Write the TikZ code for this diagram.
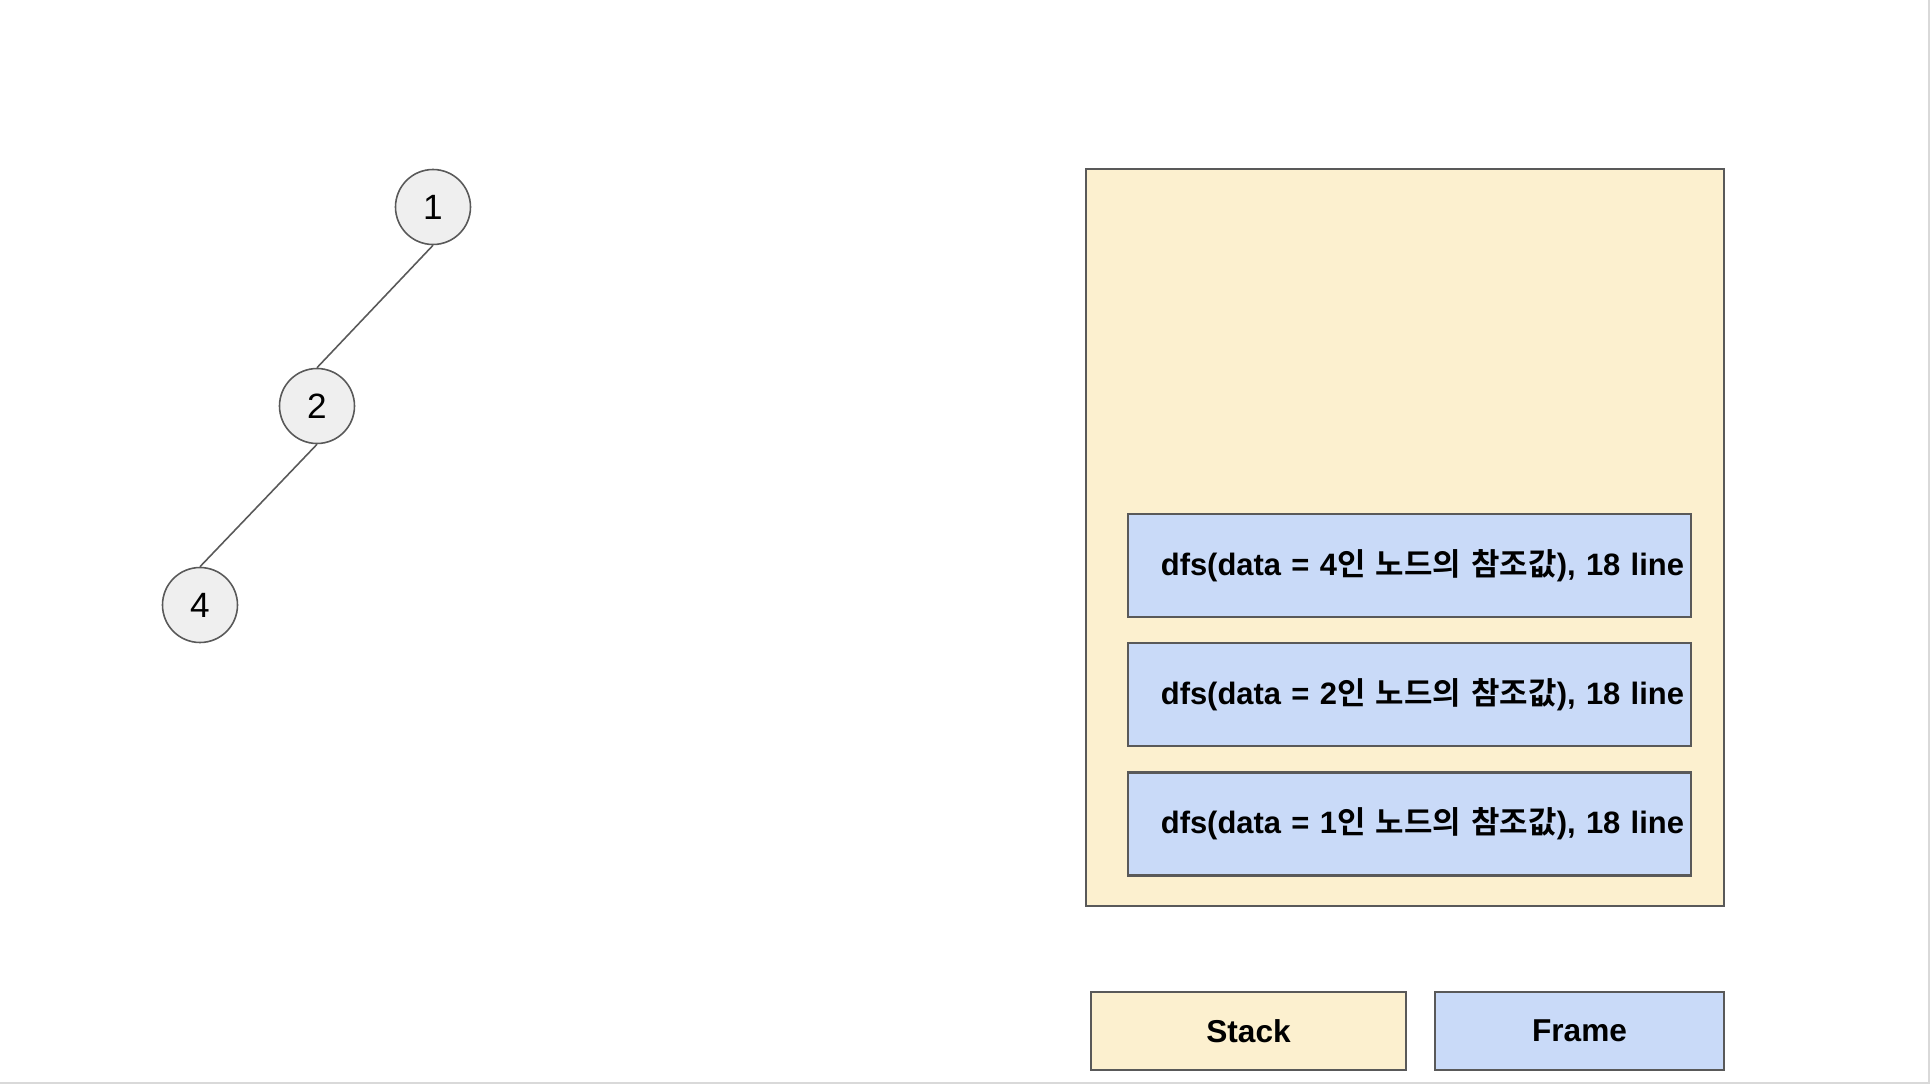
\documentclass[tikz,border=0pt]{standalone}
\usepackage{fontspec}
\setmainfont{Liberation Sans}
\newfontfamily\kofont{Noto Sans CJK KR}[BoldFont={Noto Sans CJK KR Bold}]
\usetikzlibrary{positioning,fit,calc}
\definecolor{stackfill}{HTML}{FCF0CF}
\definecolor{framefill}{HTML}{C9DAF8}
\definecolor{nodefill}{HTML}{EFEFEF}
\definecolor{edgegray}{HTML}{595959}
\definecolor{pagegray}{HTML}{D9D9D9}
\newcommand{\ko}[1]{{\kofont\bfseries #1}}

\begin{document}
\begin{tikzpicture}[
    treenode/.style={circle, draw=edgegray, fill=nodefill, line width=0.45pt, minimum size=0.75cm, inner sep=0pt, font=\fontsize{10}{12}\selectfont},
    treeedge/.style={draw=edgegray, line width=0.45pt},
    stackbox/.style={draw=edgegray, fill=stackfill, line width=0.6pt},
    framebox/.style={draw=edgegray, fill=framefill, line width=0.6pt, minimum height=1.03cm, text width=5.49cm, inner xsep=0.07cm, align=right, font=\fontsize{8.8}{10}\selectfont\bfseries},
    legend/.style={draw=edgegray, line width=0.6pt, minimum height=0.78cm, font=\fontsize{9}{10}\selectfont\bfseries}
]
\useasboundingbox (0,0) rectangle (19.30,10.84);
\draw[pagegray, line width=0.6pt] (19.29,10.84) -- (19.29,0.01) -- (0,0.01);
% tree
\node[treenode] (n1) at (4.33,8.77) {1};
\node[treenode] (n2) at (3.17,6.78) {2};
\node[treenode] (n4) at (2.00,4.79) {4};
\draw[treeedge] (n1.south) -- (n2.north);
\draw[treeedge] (n2.south) -- (n4.north);
% stack with frames
\node[stackbox, minimum width=6.38cm, minimum height=7.37cm] (stack) at (14.05,5.465) {};
\node[framebox] (f4) at (14.095,5.185) {dfs(data = 4\ko{인 노드의 참조값}), 18 line};
\node[framebox] (f2) at (14.095,3.895) {dfs(data = 2\ko{인 노드의 참조값}), 18 line};
\node[framebox] (f1) at (14.095,2.60) {dfs(data = 1\ko{인 노드의 참조값}), 18 line};
% legend
\node[legend, fill=stackfill, minimum width=3.15cm] (lstack) at (12.485,0.53) {Stack};
\node[legend, fill=framefill, minimum width=2.89cm] (lframe) at (15.795,0.53) {Frame};
\end{tikzpicture}
\end{document}
